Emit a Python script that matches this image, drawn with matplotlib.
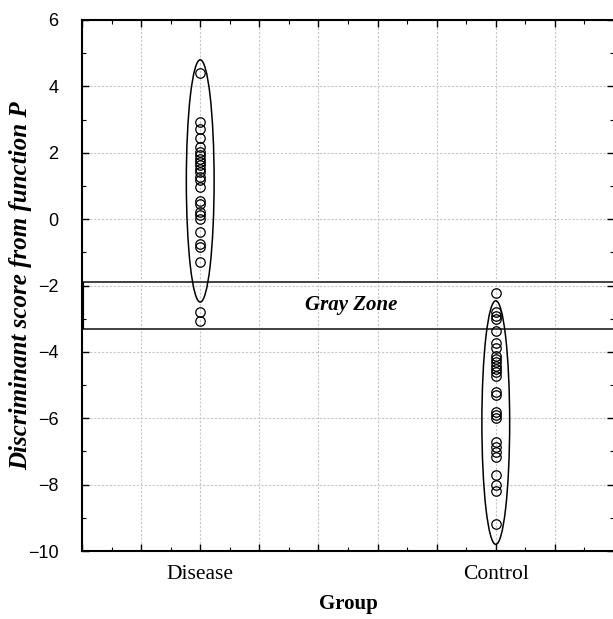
import matplotlib
matplotlib.use("Agg")
import matplotlib.pyplot as plt
from matplotlib.patches import Ellipse
from matplotlib.ticker import MultipleLocator, FixedLocator, FixedFormatter

# ---- data ----
groups = ["Disease", "Control"]
group_pos = [2, 7]
disease_scores = [4.39, 2.93, 2.73, 2.45, 2.17, 2.02, 1.92, 1.82, 1.72, 1.62,
                  1.52, 1.42, 1.27, 1.17, 0.98, 0.56, 0.46, 0.21, 0.11, 0.01,
                  -0.39, -0.75, -0.83, -1.30, -2.81, -3.06]
control_scores = [-2.22, -2.81, -2.91, -3.01, -3.36, -3.72, -3.87, -4.12, -4.22,
                  -4.32, -4.42, -4.52, -4.62, -4.72, -5.20, -5.30, -5.80, -5.90,
                  -6.00, -6.73, -6.87, -7.02, -7.18, -7.72, -8.02, -8.20, -9.18]
# ellipses: (center, height) in score units
ellipse_centers = [1.15, -6.13]
ellipse_heights = [7.30, 7.34]
gray_zone = [-1.9, -3.3]
y_ticks = [-10, -8, -6, -4, -2, 0, 2, 4, 6]
x_ticks = [0, 1, 2, 3, 4, 5, 6, 7, 8, 9]

serif = "Liberation Serif"
sans = "Liberation Sans"

fig = plt.figure(figsize=(6.13, 6.19), dpi=100)
ax = fig.add_axes([82/613, (619-551)/619, (614-82)/613, (551-20)/619])

ax.set_xlim(0, 9)
ax.set_ylim(-10, 6)

# ticks
ax.xaxis.set_major_locator(FixedLocator(x_ticks))
ax.xaxis.set_minor_locator(MultipleLocator(0.5))
ax.yaxis.set_major_locator(FixedLocator(y_ticks))
ax.yaxis.set_minor_locator(MultipleLocator(1))
ax.grid(True, which="major", color="#c8c8c8", linestyle=(0, (2, 1.5)), linewidth=0.8, zorder=0)

xl = [groups[group_pos.index(v)] if v in group_pos else "" for v in x_ticks]
ax.xaxis.set_major_formatter(FixedFormatter(xl))
ax.yaxis.set_major_formatter(FixedFormatter(
    [("\u2212" + str(abs(v))) if v < 0 else str(v) for v in y_ticks]))

ax.tick_params(which="both", direction="in", top=True, right=True, color="black")
ax.tick_params(which="major", length=5, width=1)
ax.tick_params(which="minor", length=3, width=0.8)
ax.tick_params(axis="x", which="major", pad=10, labelsize=15.5)
ax.tick_params(axis="y", which="major", pad=17, labelsize=13)
for lab in ax.get_xticklabels():
    lab.set_fontfamily(serif)
for lab in ax.get_yticklabels():
    lab.set_fontfamily(sans)

for s in ax.spines.values():
    s.set_linewidth(1.5)
    s.set_color("black")

# ellipses
for xc, yc, h in zip(group_pos, ellipse_centers, ellipse_heights):
    ax.add_patch(Ellipse((xc, yc), width=0.47, height=h, fill=False,
                         edgecolor="black", linewidth=1.1, zorder=3))

# points
for xc, vals in zip(group_pos, [disease_scores, control_scores]):
    ax.plot([xc] * len(vals), vals, linestyle="none", marker="o", markersize=6.8,
            markerfacecolor="none", markeredgecolor="black", markeredgewidth=0.9, zorder=4)

# gray zone
for g in gray_zone:
    ax.axhline(g, color="#333333", linewidth=1.3, zorder=2)
ax.vlines(0.0, gray_zone[1], gray_zone[0], color="black", linewidth=3, zorder=2)
ax.text(4.55, (gray_zone[0] + gray_zone[1]) / 2, "Gray Zone", ha="center", va="center",
        fontsize=15, fontfamily=serif, fontweight="bold", fontstyle="italic")

ax.set_xlabel("Group", fontfamily=serif, fontweight="bold", fontsize=15, labelpad=7)
ax.set_ylabel("Discriminant score from function P", fontfamily=serif, fontweight="bold",
              fontstyle="italic", fontsize=18)
ax.yaxis.set_label_coords(-0.094, 0.5)

fig.savefig("out.png", dpi=100)
